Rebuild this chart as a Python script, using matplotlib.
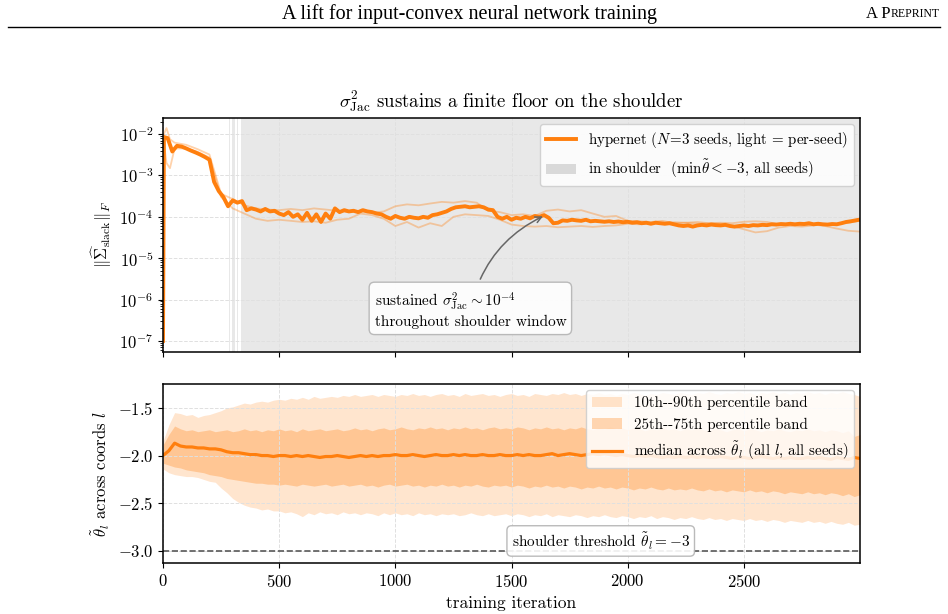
import numpy as np
import matplotlib
matplotlib.use("Agg")
import matplotlib.pyplot as plt
from matplotlib.lines import Line2D
from matplotlib.patches import Patch

plt.rcParams["font.family"] = ["cmr10"]
plt.rcParams["mathtext.fontset"] = "cm"
plt.rcParams["axes.formatter.use_mathtext"] = True
plt.rcParams["axes.unicode_minus"] = True

ORANGE = "#ff7f0e"

# ---- top panel: ||Sigma_slack||_F, units of 1e-4 ----
iters_top = np.concatenate([[0, 4], np.arange(20, 3001, 20)])
median_top = [0.001, 85,
    80, 38, 52, 50, 45, 40, 36, 32, 28, 24,
    7, 4.2, 3.0, 1.8, 2.5, 2.2, 2.4, 1.45, 1.6, 1.5,
    1.35, 1.55, 1.35, 1.4, 1.2, 1.1, 1.3, 1.0, 1.15, 0.85,
    1.25, 0.8, 1.15, 0.75, 1.2, 0.9, 1.6, 1.3, 1.45, 1.35,
    1.4, 1.3, 1.45, 1.35, 1.3, 1.2, 1.15, 1.0, 0.9, 1.05,
    0.95, 0.9, 1.0, 0.95, 0.92, 1.0, 0.95, 1.1, 1.15, 1.25,
    1.35, 1.55, 1.7, 1.75, 1.8, 1.7, 1.75, 1.8, 1.7, 1.5,
    1.45, 1.0, 0.9, 1.0, 0.85, 0.95, 0.9, 1.0, 0.92, 1.05,
    1.0, 1.1, 0.95, 0.7, 0.72, 0.82, 0.8, 0.85, 0.82, 0.8,
    0.85, 0.78, 0.8, 0.78, 0.76, 0.78, 0.75, 0.77, 0.74, 0.76,
    0.72, 0.74, 0.7, 0.72, 0.68, 0.72, 0.7, 0.68, 0.7, 0.66,
    0.62, 0.6, 0.62, 0.58, 0.62, 0.64, 0.62, 0.65, 0.63, 0.62,
    0.64, 0.6, 0.58, 0.6, 0.62, 0.6, 0.63, 0.62, 0.64, 0.63,
    0.66, 0.65, 0.67, 0.66, 0.68, 0.66, 0.68, 0.67, 0.7, 0.66,
    0.68, 0.66, 0.65, 0.67, 0.66, 0.7, 0.75, 0.78, 0.82, 0.86]

iters_seed = np.concatenate([[0, 4, 15, 30], np.arange(50, 3001, 50)])
seed_a = [0.001, 100, 140, 75,
    62, 55, 43, 32, 3.6, 2.7, 1.9, 1.6, 1.5, 1.45,
    1.55, 1.45, 1.6, 1.5, 1.4, 1.3, 1.35, 1.25, 1.35, 1.8,
    2.0, 1.9, 2.1, 2.3, 2.2, 2.4, 2.2, 1.4, 1.3, 1.1,
    1.15, 1.05, 1.4, 1.5, 1.35, 1.45, 1.2, 1.0, 1.05, 0.8,
    0.78, 0.75, 0.8, 0.7, 0.72, 0.68, 0.7, 0.72, 0.7, 0.76,
    0.78, 0.75, 0.66, 0.64, 0.62, 0.65, 0.6, 0.52, 0.46, 0.44]
seed_b = [0.001, 60, 20, 15,
    45, 45, 37, 27, 3.0, 1.6, 1.2, 0.9, 0.8, 0.85,
    0.8, 0.75, 0.78, 0.72, 0.85, 0.9, 1.2, 1.1, 0.9, 0.6,
    0.75, 0.55, 0.7, 0.6, 1.0, 1.15, 1.1, 1.05, 0.85, 0.65,
    0.6, 0.58, 0.6, 0.56, 0.58, 0.6, 0.57, 0.6, 0.62, 0.68,
    0.66, 0.7, 0.72, 0.74, 0.72, 0.75, 0.7, 0.68, 0.6, 0.5,
    0.42, 0.45, 0.55, 0.6, 0.58, 0.62, 0.66, 0.68, 0.72, 0.8]

shoulder_start = [284, 298, 318, 334]
shoulder_end = [287, 312, 322, 3000]

# ---- bottom panel: theta_tilde percentiles ----
iters_bot = np.arange(0, 3001, 25)
p90 = [-1.85, -1.68, -1.55, -1.56, -1.58, -1.57, -1.60, -1.58, -1.57, -1.55,
    -1.53, -1.50, -1.49, -1.47, -1.45, -1.46, -1.44, -1.43, -1.44, -1.42,
    -1.41, -1.42, -1.40, -1.41, -1.39, -1.41, -1.38, -1.40, -1.39, -1.38,
    -1.39, -1.37, -1.38, -1.36, -1.38, -1.37, -1.36, -1.38, -1.36, -1.37,
    -1.38, -1.36, -1.37, -1.35, -1.37, -1.36, -1.38, -1.36, -1.35, -1.37,
    -1.36, -1.38, -1.35, -1.37, -1.36, -1.35, -1.37, -1.36, -1.38, -1.36,
    -1.35, -1.37, -1.36, -1.38, -1.35, -1.36, -1.37, -1.35, -1.36, -1.34,
    -1.36, -1.35, -1.37, -1.35, -1.36, -1.34, -1.36, -1.35, -1.37, -1.35,
    -1.36, -1.34, -1.35, -1.37, -1.35, -1.36, -1.34, -1.35, -1.36, -1.34,
    -1.35, -1.36, -1.34, -1.35, -1.33, -1.35, -1.36, -1.34, -1.35, -1.33,
    -1.35, -1.34, -1.36, -1.34, -1.35, -1.33, -1.35, -1.34, -1.36, -1.34,
    -1.35, -1.33, -1.35, -1.34, -1.36, -1.34, -1.35, -1.33, -1.35, -1.36,
    -1.38]
p75 = [-1.89, -1.78, -1.69, -1.72, -1.74, -1.73, -1.75, -1.74, -1.73, -1.75,
    -1.74, -1.73, -1.75, -1.74, -1.72, -1.74, -1.73, -1.75, -1.73, -1.74,
    -1.72, -1.74, -1.73, -1.75, -1.72, -1.74, -1.73, -1.72, -1.74, -1.73,
    -1.72, -1.74, -1.73, -1.71, -1.73, -1.72, -1.74, -1.72, -1.71, -1.73,
    -1.72, -1.70, -1.72, -1.73, -1.71, -1.72, -1.70, -1.72, -1.71, -1.73,
    -1.71, -1.72, -1.70, -1.72, -1.71, -1.73, -1.71, -1.70, -1.72, -1.71,
    -1.72, -1.70, -1.71, -1.73, -1.71, -1.72, -1.70, -1.72, -1.71, -1.73,
    -1.71, -1.72, -1.70, -1.72, -1.73, -1.71, -1.72, -1.70, -1.72, -1.71,
    -1.73, -1.71, -1.72, -1.74, -1.72, -1.73, -1.71, -1.73, -1.72, -1.74,
    -1.72, -1.73, -1.71, -1.73, -1.74, -1.72, -1.73, -1.75, -1.73, -1.72,
    -1.74, -1.72, -1.73, -1.75, -1.73, -1.74, -1.72, -1.74, -1.75, -1.73,
    -1.74, -1.72, -1.74, -1.73, -1.75, -1.73, -1.74, -1.76, -1.74, -1.80,
    -1.78]
median_bot = [-2.00, -1.95, -1.87, -1.90, -1.91, -1.91, -1.92, -1.92, -1.93, -1.93,
    -1.94, -1.96, -1.97, -1.97, -1.98, -1.99, -1.99, -2.00, -2.00, -2.01,
    -2.00, -2.00, -2.01, -2.00, -2.01, -2.00, -2.01, -2.02, -2.01, -2.01,
    -2.00, -2.01, -2.02, -2.01, -2.00, -2.01, -2.00, -2.01, -2.00, -2.00,
    -1.99, -2.00, -2.00, -1.99, -2.00, -2.01, -2.00, -1.99, -2.00, -2.00,
    -1.99, -2.00, -1.99, -2.00, -2.00, -1.99, -2.00, -2.00, -1.99, -2.00,
    -2.00, -1.99, -2.00, -1.99, -2.00, -2.00, -1.99, -1.98, -2.00, -1.99,
    -1.98, -1.99, -2.00, -1.99, -1.98, -1.99, -1.98, -1.99, -2.00, -1.99,
    -2.00, -2.01, -2.00, -2.01, -2.00, -2.01, -2.02, -2.01, -2.02, -2.01,
    -2.02, -2.01, -2.02, -2.01, -2.02, -2.02, -2.01, -2.02, -2.03, -2.02,
    -2.02, -2.03, -2.02, -2.01, -2.02, -2.03, -2.02, -2.03, -2.02, -2.03,
    -2.03, -2.02, -2.03, -2.02, -2.03, -2.04, -2.02, -2.03, -2.04, -2.02,
    -2.03]
p25 = [-2.08, -2.10, -2.12, -2.13, -2.15, -2.16, -2.17, -2.18, -2.20, -2.21,
    -2.22, -2.24, -2.25, -2.26, -2.27, -2.28, -2.29, -2.29, -2.30, -2.30,
    -2.31, -2.30, -2.31, -2.32, -2.30, -2.31, -2.32, -2.31, -2.30, -2.32,
    -2.31, -2.30, -2.32, -2.31, -2.30, -2.32, -2.31, -2.33, -2.31, -2.30,
    -2.32, -2.31, -2.30, -2.32, -2.31, -2.33, -2.31, -2.32, -2.30, -2.32,
    -2.31, -2.33, -2.31, -2.32, -2.30, -2.32, -2.33, -2.31, -2.32, -2.31,
    -2.33, -2.31, -2.32, -2.34, -2.32, -2.33, -2.31, -2.33, -2.32, -2.34,
    -2.32, -2.33, -2.35, -2.33, -2.34, -2.32, -2.34, -2.33, -2.35, -2.33,
    -2.34, -2.36, -2.34, -2.35, -2.33, -2.35, -2.36, -2.34, -2.36, -2.35,
    -2.36, -2.34, -2.36, -2.37, -2.35, -2.37, -2.36, -2.38, -2.36, -2.37,
    -2.38, -2.36, -2.38, -2.37, -2.39, -2.37, -2.38, -2.40, -2.38, -2.39,
    -2.40, -2.38, -2.40, -2.39, -2.41, -2.39, -2.40, -2.42, -2.40, -2.43,
    -2.41]
p10 = [-2.14, -2.18, -2.20, -2.21, -2.22, -2.22, -2.23, -2.25, -2.27, -2.28,
    -2.34, -2.39, -2.45, -2.49, -2.52, -2.54, -2.55, -2.57, -2.56, -2.58,
    -2.58, -2.60, -2.59, -2.61, -2.64, -2.60, -2.62, -2.59, -2.61, -2.60,
    -2.62, -2.59, -2.61, -2.60, -2.62, -2.60, -2.61, -2.63, -2.60, -2.62,
    -2.60, -2.62, -2.61, -2.63, -2.60, -2.62, -2.61, -2.63, -2.61, -2.62,
    -2.61, -2.63, -2.62, -2.60, -2.62, -2.63, -2.61, -2.63, -2.62, -2.61,
    -2.63, -2.61, -2.62, -2.64, -2.62, -2.63, -2.61, -2.64, -2.62, -2.63,
    -2.64, -2.62, -2.63, -2.65, -2.63, -2.64, -2.62, -2.64, -2.65, -2.63,
    -2.64, -2.66, -2.64, -2.65, -2.63, -2.66, -2.64, -2.65, -2.67, -2.65,
    -2.66, -2.64, -2.66, -2.67, -2.65, -2.67, -2.66, -2.68, -2.66, -2.67,
    -2.68, -2.66, -2.68, -2.67, -2.69, -2.67, -2.68, -2.70, -2.68, -2.69,
    -2.70, -2.68, -2.70, -2.69, -2.71, -2.69, -2.71, -2.72, -2.70, -2.73,
    -2.72]
threshold = -3.0


def main():
    fig = plt.figure(figsize=(9.48, 6.14), dpi=100)

    # page header
    fig.text(470 / 948, 1 - 14 / 614, "A lift for input-convex neural network training",
             ha="center", va="center", family="Liberation Serif", fontsize=14.5)
    t2 = fig.text(940 / 948, 1 - 14 / 614, "REPRINT", ha="right", va="center",
                  family="Liberation Serif", fontsize=8.5)
    fig.canvas.draw()
    bb = t2.get_window_extent()
    fig.text(bb.x0 / 948, 1 - 14 / 614, "A P", ha="right", va="center",
             family="Liberation Serif", fontsize=12)
    fig.add_artist(Line2D([8 / 948, 940 / 948], [1 - 27 / 614, 1 - 27 / 614],
                          color="black", lw=1.0, transform=fig.transFigure))

    ax1 = fig.add_axes([163 / 948, 1 - 352 / 614, 697 / 948, 234 / 614])
    ax2 = fig.add_axes([163 / 948, 1 - 563 / 614, 697 / 948, 179 / 614], sharex=ax1)

    # top panel
    for s, e in zip(shoulder_start, shoulder_end):
        ax1.axvspan(s, e, color="0.55", alpha=0.2, lw=0)
    ax1.plot(iters_seed, np.array(seed_a) * 1e-4, color=ORANGE, alpha=0.35, lw=1.3)
    ax1.plot(iters_seed, np.array(seed_b) * 1e-4, color=ORANGE, alpha=0.35, lw=1.3)
    ax1.plot(iters_top, np.array(median_top) * 1e-4, color=ORANGE, lw=2.8)
    ax1.set_yscale("log")
    ax1.set_ylim(5.4e-8, 2.45e-2)
    ax1.set_xlim(0, 3000)
    ax1.grid(True, ls="--", lw=0.7, color="0.88")
    ax1.set_ylabel(r"$\|\widehat{\Sigma}_{\mathrm{slack}}\|_F$", fontsize=12)
    ax1.set_title(r"$\sigma^2_{\mathrm{Jac}}$ sustains a finite floor on the shoulder",
                  fontsize=13.5, pad=8)
    ax1.tick_params(labelbottom=False)
    handles = [Line2D([], [], color=ORANGE, lw=2.8),
               Patch(facecolor="0.55", alpha=0.3, lw=0)]
    ax1.legend(handles, [r"hypernet ($N\!=\!3$ seeds, light = per-seed)",
                         r"in shoulder  ($\min\tilde{\theta}<-3$, all seeds)"],
               loc="upper right", fontsize=10.8, framealpha=0.85, borderaxespad=0.4)
    ax1.annotate("sustained $\\sigma^2_{\\mathrm{Jac}}\\sim 10^{-4}$\nthroughout shoulder window",
                 xy=(1646, 1.1e-4), xytext=(1323, 5.6e-7), ha="center", va="center",
                 fontsize=11, multialignment="left",
                 bbox=dict(boxstyle="round,pad=0.35", fc="white", ec="0.7", alpha=0.9),
                 arrowprops=dict(arrowstyle="->", color="0.4", lw=1.1,
                                 connectionstyle="arc3,rad=-0.25"))

    # bottom panel
    ax2.fill_between(iters_bot, p10, p90, color=ORANGE, alpha=0.2, lw=0,
                     label="10th--90th percentile band")
    ax2.fill_between(iters_bot, p25, p75, color=ORANGE, alpha=0.3, lw=0,
                     label="25th--75th percentile band")
    ax2.plot(iters_bot, median_bot, color=ORANGE, lw=2.3,
             label=r"median across $\tilde{\theta}_l$ (all $l$, all seeds)")
    ax2.axhline(threshold, color="0.35", ls="--", lw=1.2)
    ax2.text(1884, -2.895, r"shoulder threshold $\tilde{\theta}_l=-3$", ha="center",
             va="center", fontsize=11,
             bbox=dict(boxstyle="round,pad=0.3", fc="white", ec="0.7", alpha=0.9))
    ax2.set_ylim(-3.126, -1.25)
    ax2.set_yticks([-3.0, -2.5, -2.0, -1.5])
    ax2.set_xticks([0, 500, 1000, 1500, 2000, 2500])
    ax2.grid(True, ls="--", lw=0.7, color="0.88")
    ax2.set_ylabel(r"$\tilde{\theta}_l$ across coords $l$", fontsize=12)
    ax2.set_xlabel("training iteration", fontsize=12.5)
    ax2.legend(loc="upper right", fontsize=10.8, framealpha=0.85, borderaxespad=0.4)

    for ax in (ax1, ax2):
        ax.tick_params(labelsize=12)
        for sp in ax.spines.values():
            sp.set_linewidth(1.1)

    fig.savefig("out.png", dpi=100)


if __name__ == "__main__":
    main()
